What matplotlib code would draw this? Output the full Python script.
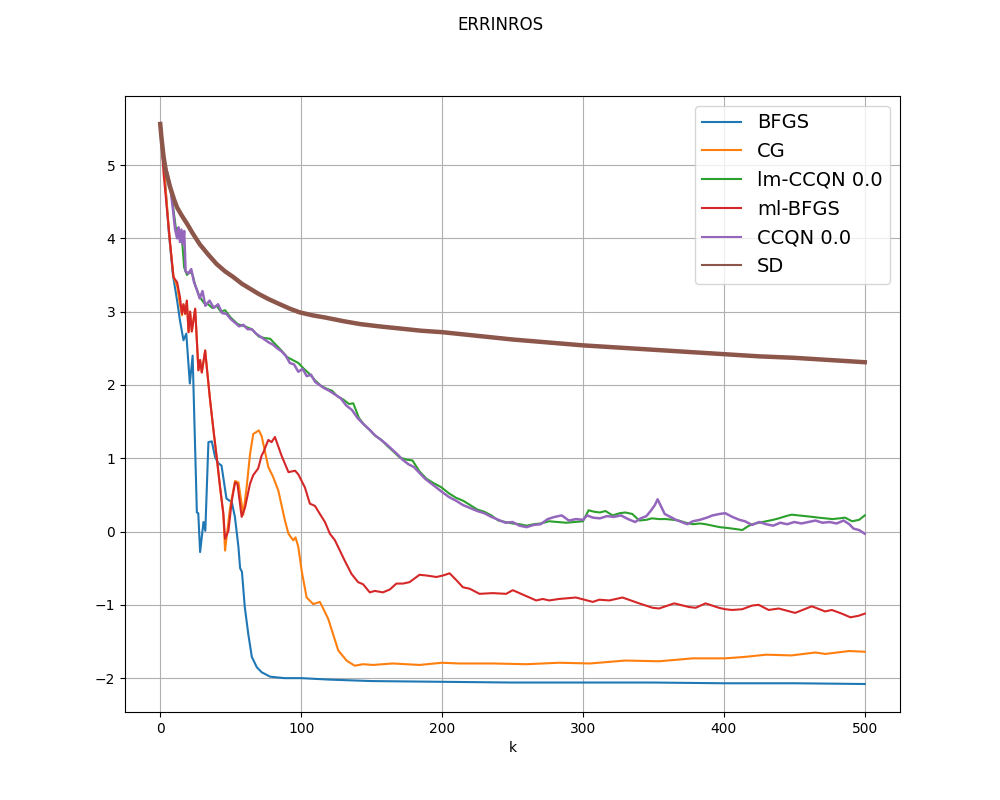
#!/usr/bin/env python
# convergence of the error (ERRINROS) for the different solvers

import matplotlib
matplotlib.use('Agg')
import matplotlib.pyplot as plt

# (k, error)
bfgs = [(0, 5.55), (3, 4.9), (6, 4.1), (9, 3.5), (12, 3.15), (14, 2.88), (16.5, 2.61),
        (18.5, 2.70), (21, 2.02), (23, 2.40), (26, 0.26), (27, 0.25), (28.3, -0.28),
        (30.7, 0.13), (32, 0.01), (34.2, 1.22), (36.6, 1.23), (39, 1.01), (41.3, 0.93),
        (43.5, 0.90), (47, 0.45), (50.8, 0.40), (53, 0.20), (55.5, -0.21), (56.7, -0.50),
        (58, -0.55), (60, -1.03), (62.5, -1.40), (65, -1.71), (68.5, -1.85), (72, -1.92),
        (78, -1.98), (88, -2.00), (100, -2.00), (120, -2.02), (150, -2.04), (200, -2.05),
        (250, -2.06), (300, -2.06), (350, -2.06), (400, -2.07), (450, -2.07), (500, -2.08)]

cg = [(0, 5.55), (3, 4.88), (7, 3.92), (9.5, 3.47), (12, 3.35), (14, 3.1), (15.5, 2.95),
      (16.5, 3.1), (17.7, 2.97), (18.9, 3.15), (20.1, 2.72), (21.2, 3.0), (22.4, 2.73),
      (24.8, 3.04), (27.1, 2.20), (28.3, 2.34), (29.5, 2.17), (31.9, 2.47), (33, 2.25),
      (35.4, 1.79), (37.8, 1.38), (40.1, 1.01), (42.5, 0.60), (44.8, 0.24), (46, -0.26),
      (49.6, 0.33), (53.1, 0.69), (55.5, 0.67), (58.9, 0.23), (61.3, 0.60), (63.7, 1.05),
      (66, 1.33), (68.4, 1.36), (70, 1.38), (72, 1.30), (76.7, 0.88), (80, 0.75),
      (83.8, 0.56), (88.5, 0.15), (91, -0.03), (94.4, -0.12), (96, -0.08), (98, -0.21),
      (100.5, -0.55), (103.9, -0.90), (108.6, -0.99), (113.3, -0.96), (119.2, -1.19),
      (126.3, -1.62), (132.2, -1.76), (138, -1.83), (144, -1.81), (151, -1.82),
      (165, -1.80), (184, -1.82), (200, -1.79), (212, -1.80), (236, -1.80), (260, -1.81),
      (283, -1.79), (305, -1.80), (330, -1.76), (354, -1.77), (378, -1.73), (401, -1.73),
      (415, -1.71), (430, -1.68), (448, -1.69), (465, -1.65), (472, -1.67), (489, -1.63),
      (500, -1.64)]

lm_ccqn = [(0, 5.55), (3, 5.0), (5, 4.85), (7, 4.72), (9, 4.45), (11, 4.15), (13, 4.05),
           (15, 4.1), (17, 3.6), (19, 3.5), (21, 3.55), (23, 3.5), (25, 3.35), (28, 3.2),
           (31, 3.12), (34, 3.1), (37, 3.05), (40, 3.08), (43, 3.0), (46, 3.02), (50, 2.92),
           (55, 2.83), (60, 2.80), (65, 2.76), (70, 2.66), (74, 2.64), (78, 2.63), (82, 2.55),
           (86, 2.47), (90, 2.38), (94, 2.34), (98, 2.30), (102, 2.22), (106, 2.15),
           (110, 2.06), (114, 1.99), (118, 1.95), (122, 1.92), (126, 1.84), (130, 1.80),
           (134, 1.74), (137, 1.75), (141, 1.55), (145, 1.45), (149, 1.38), (153, 1.30),
           (157, 1.25), (161, 1.17), (165, 1.10), (170, 1.01), (175, 0.98), (179, 0.97),
           (184, 0.82), (189, 0.72), (194, 0.66), (199, 0.61), (205, 0.52), (210, 0.46),
           (215, 0.42), (220, 0.36), (225, 0.30), (230, 0.27), (235, 0.22), (240, 0.15),
           (245, 0.13), (250, 0.11), (255, 0.10), (260, 0.08), (265, 0.10), (270, 0.11),
           (276, 0.14), (282, 0.13), (288, 0.12), (294, 0.13), (300, 0.14), (304, 0.29),
           (308, 0.27), (312, 0.26), (316, 0.28), (321, 0.22), (326, 0.25), (330, 0.26),
           (335, 0.24), (340, 0.15), (345, 0.16), (349, 0.18), (354, 0.17), (359, 0.17),
           (364, 0.16), (368, 0.15), (373, 0.12), (378, 0.10), (383, 0.11), (387, 0.10),
           (392, 0.08), (397, 0.06), (402, 0.05), (406, 0.04), (410, 0.03), (413, 0.02),
           (417, 0.07), (420, 0.10), (425, 0.12), (430, 0.14), (435, 0.16), (439, 0.18),
           (444, 0.21), (448, 0.23), (453, 0.22), (458, 0.21), (463, 0.20), (467, 0.19),
           (472, 0.18), (477, 0.17), (482, 0.18), (486, 0.19), (491, 0.14), (496, 0.16),
           (500, 0.22)]

ml_bfgs = [(0, 5.55), (2.4, 4.88), (7.1, 3.92), (9.4, 3.47), (12, 3.40), (14, 3.20),
           (15.4, 2.97), (16.5, 3.10), (17.7, 2.97), (18.9, 3.15), (20.1, 2.72), (21.2, 3.00),
           (22.4, 2.73), (24.8, 3.04), (27.1, 2.20), (28.3, 2.34), (29.5, 2.17), (31.9, 2.47),
           (33, 2.25), (35.4, 1.79), (37.8, 1.38), (40.1, 1.01), (42.5, 0.60), (44.8, 0.24),
           (46, -0.10), (48.4, 0.01), (50.8, 0.42), (53.1, 0.67), (54.8, 0.65), (57.8, 0.20),
           (60.2, 0.33), (63.7, 0.65), (66, 0.77), (69.5, 0.86), (72, 1.04), (73.2, 1.08),
           (76.7, 1.25), (79, 1.22), (81.4, 1.29), (86, 1.04), (91, 0.81), (95.7, 0.83),
           (98, 0.78), (102.7, 0.60), (106.2, 0.38), (109.8, 0.35), (113.3, 0.24),
           (116.9, 0.13), (120.4, -0.03), (124, -0.12), (127.5, -0.26), (131, -0.40),
           (135.8, -0.58), (140.4, -0.69), (144, -0.72), (148.7, -0.83), (152.3, -0.81),
           (158, -0.83), (163, -0.79), (167.6, -0.71), (172.3, -0.71), (177, -0.69),
           (184, -0.59), (189, -0.60), (196, -0.62), (200.6, -0.60), (205.4, -0.57),
           (210, -0.66), (214.8, -0.76), (219.6, -0.78), (226.6, -0.85), (236, -0.84),
           (245.5, -0.85), (250.2, -0.80), (257.3, -0.86), (266.8, -0.94), (271.5, -0.92),
           (276, -0.94), (283, -0.92), (295, -0.90), (307, -0.96), (311.6, -0.93),
           (318.7, -0.94), (328.1, -0.90), (339.9, -0.98), (349.4, -1.04), (354, -1.05),
           (364.7, -0.98), (375.3, -1.03), (380, -1.04), (387, -0.98), (396.4, -1.04),
           (401, -1.06), (405.8, -1.07), (413, -1.06), (420, -1.01), (424.7, -1.00),
           (431.8, -1.07), (438.9, -1.05), (450.6, -1.11), (462.4, -1.02), (471.9, -1.09),
           (476.6, -1.07), (483.7, -1.12), (489.8, -1.17), (495.5, -1.15), (500, -1.12)]

ccqn = [(0, 5.55), (2, 5.15), (4, 4.95), (5, 4.90), (7, 4.72), (9, 4.40), (10.5, 4.13),
        (12, 4.00), (13, 4.15), (14, 3.95), (15, 4.12), (16, 3.92), (17, 4.10), (18, 3.55),
        (20, 3.52), (22, 3.58), (24, 3.40), (26, 3.30), (28, 3.18), (30, 3.28), (32, 3.08),
        (35, 3.15), (38, 3.05), (41, 3.10), (44, 2.98), (47, 2.97), (50, 2.90), (53, 2.85),
        (56, 2.80), (59, 2.82), (62, 2.76), (65, 2.76), (68, 2.70), (71, 2.66), (74, 2.62),
        (77, 2.58), (80, 2.55), (83, 2.50), (86, 2.46), (89, 2.40), (92, 2.30), (95, 2.28),
        (98, 2.18), (101, 2.22), (104, 2.12), (107, 2.14), (110, 2.04), (113, 2.00),
        (116, 1.96), (120, 1.92), (124, 1.87), (128, 1.82), (132, 1.72), (136, 1.66),
        (140, 1.55), (144, 1.47), (148, 1.40), (152, 1.32), (156, 1.26), (160, 1.20),
        (164, 1.13), (168, 1.06), (172, 0.98), (176, 0.92), (180, 0.88), (184, 0.80),
        (188, 0.72), (192, 0.66), (196, 0.60), (200, 0.54), (205, 0.47), (210, 0.42),
        (215, 0.36), (220, 0.32), (225, 0.28), (230, 0.25), (235, 0.20), (240, 0.16),
        (245, 0.12), (250, 0.13), (255, 0.08), (260, 0.06), (265, 0.09), (270, 0.10),
        (275, 0.17), (280, 0.20), (285, 0.22), (290, 0.15), (295, 0.17), (300, 0.16),
        (303, 0.22), (307, 0.19), (312, 0.18), (317, 0.21), (322, 0.20), (327, 0.22),
        (332, 0.17), (337, 0.13), (341, 0.18), (345, 0.21), (348, 0.28), (351, 0.36),
        (353, 0.44), (355, 0.36), (358, 0.24), (362, 0.20), (366, 0.16), (370, 0.13),
        (374, 0.10), (378, 0.14), (383, 0.16), (388, 0.19), (392, 0.22), (397, 0.24),
        (401, 0.25), (406, 0.20), (411, 0.16), (415, 0.14), (420, 0.09), (425, 0.13),
        (430, 0.10), (435, 0.08), (440, 0.12), (445, 0.10), (450, 0.13), (455, 0.11),
        (460, 0.13), (465, 0.15), (470, 0.12), (475, 0.13), (480, 0.11), (485, 0.15),
        (489, 0.10), (492, 0.04), (496, 0.02), (500, -0.03)]

sd = [(0, 5.56), (1, 5.35), (2.4, 5.11), (4, 4.92), (7, 4.70), (10, 4.52), (12, 4.42),
      (15, 4.32), (19, 4.20), (23, 4.07), (28, 3.92), (34, 3.78), (40, 3.65), (46, 3.55),
      (52, 3.47), (58, 3.38), (64, 3.31), (70, 3.24), (77, 3.17), (85, 3.10), (92, 3.04),
      (99, 2.99), (108, 2.95), (117, 2.92), (130, 2.87), (142, 2.83), (155, 2.80),
      (170, 2.77), (185, 2.74), (200, 2.72), (225, 2.67), (250, 2.62), (275, 2.58),
      (300, 2.54), (325, 2.51), (350, 2.48), (375, 2.45), (400, 2.42), (425, 2.39),
      (450, 2.37), (475, 2.34), (500, 2.31)]

series = [('BFGS', bfgs), ('CG', cg), ('lm-CCQN 0.0', lm_ccqn),
          ('ml-BFGS', ml_bfgs), ('CCQN 0.0', ccqn), ('SD', sd)]

fig = plt.figure(figsize=(10, 8), dpi=100)
ax = fig.add_subplot(111)

for name, pts in series:
    k, err = zip(*pts)
    lw = 1.5
    if name == 'SD':
        # SD zigzags every step -> looks like a thick band
        lw = 3.2
    elif name == 'CCQN 0.0':
        lw = 1.8
    ax.plot(k, err, label=name, linewidth=lw)

fig.suptitle('ERRINROS')
ax.set_xlabel('k')
ax.grid(True)
leg = ax.legend(loc='upper right', fontsize=14)
for line in leg.get_lines():
    line.set_linewidth(1.5)

fig.savefig('out.png', dpi=100)
